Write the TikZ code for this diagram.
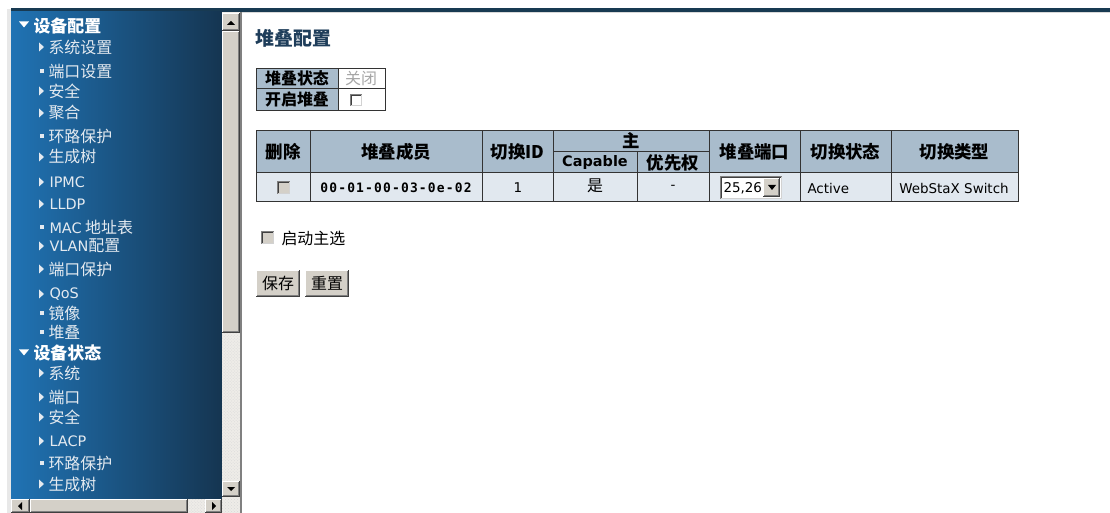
\documentclass[tikz,border=0pt]{standalone}
\usepackage{fontspec}
\setmainfont{Noto Sans CJK SC}
\newfontfamily\lat{DejaVu Sans}
\newfontfamily\latmono{DejaVu Sans Mono}[LetterSpace=9]
\usetikzlibrary{patterns}
\definecolor{bar}{HTML}{183A52}
\definecolor{navL}{HTML}{2073B4}
\definecolor{navR}{HTML}{153551}
\definecolor{navtxt}{HTML}{E4EAF0}
\definecolor{btn}{HTML}{D4D0C8}
\definecolor{btnsh}{HTML}{808080}
\definecolor{btndk}{HTML}{404040}
\definecolor{hdr}{HTML}{A9BCCC}
\definecolor{rowbg}{HTML}{E1E8EF}
\definecolor{ttl}{HTML}{1E3D5A}
\definecolor{track}{HTML}{EEECE8}
\definecolor{grid}{HTML}{333333}
\newcommand\winbevel[4]{%
  \fill[btn] (#1,#2) rectangle (#3,#4);
  \draw[white] (#1+0.5,#4-1) -- (#1+0.5,#2+0.5) -- (#3-1,#2+0.5);
  \draw[btndk] (#1,#4-0.5) -- (#3-0.5,#4-0.5) -- (#3-0.5,#2);
  \draw[btnsh] (#1+1,#4-1.5) -- (#3-1.5,#4-1.5) -- (#3-1.5,#2+1);
}
\newcommand\winsunk[5]{% x1 y1 x2 y2 fill
  \fill[#5] (#1,#2) rectangle (#3,#4);
  \draw[btnsh] (#1+0.5,#4) -- (#1+0.5,#2+0.5) -- (#3,#2+0.5);
  \draw[btndk] (#1+1.5,#4-1) -- (#1+1.5,#2+1.5) -- (#3-1,#2+1.5);
  \draw[gray!35] (#1+1,#4-0.5) -- (#3-0.5,#4-0.5) -- (#3-0.5,#2+1);
}
\tikzset{
  navitem/.style={anchor=west, inner sep=0, text=navtxt, font=\fontsize{16}{16}\selectfont},
  navlat/.style={navitem, font=\lat\fontsize{14.5}{14.5}\selectfont},
  navhead/.style={anchor=west, inner sep=0, text=white, font=\bfseries\fontsize{17}{17}\selectfont},
  hd/.style={inner sep=0, font=\bfseries\fontsize{17.5}{17.5}\selectfont},
  sm/.style={inner sep=0, font=\bfseries\fontsize{16}{16}\selectfont},
  cell/.style={inner sep=0, font=\lat\fontsize{13.5}{13.5}\selectfont},
  txt/.style={inner sep=0, font=\fontsize{16}{16}\selectfont},
}
\begin{document}
\begin{tikzpicture}[x=1bp,y=-1bp,line width=1bp]
\useasboundingbox (0,0) rectangle (1110,513);
\fill[white] (0,0) rectangle (1110,513);
% top bar and left strip
\fill[bar] (11,8.5) rectangle (1110,12);
\fill[gray!30] (11,12) rectangle (1110,13);
\fill[gray!18] (7,9) rectangle (11,513);
% navigation panel
\shade[left color=navL, right color=navR] (11,12) rectangle (222,499);
% scrollbar tracks
\fill[track] (222,12) rectangle (240,513);
\fill[track] (11,499) rectangle (222,513);
\fill[pattern=crosshatch dots, pattern color=gray!30] (222,333) rectangle (240,481);
\fill[pattern=crosshatch dots, pattern color=gray!30] (188,499) rectangle (205,513);
\fill[pattern=crosshatch dots, pattern color=gray!30] (222,497) rectangle (240,513);
% vertical scrollbar
\winbevel{222}{13}{240}{31}
\fill[black] (227,25) -- (235,25) -- (231,21) -- cycle;
\winbevel{222}{31}{240}{333}
\winbevel{222}{481}{240}{497}
\fill[black] (227,487) -- (235,487) -- (231,491) -- cycle;
% horizontal scrollbar
\winbevel{11}{499}{30}{513}
\fill[black] (22,502) -- (22,510) -- (18,506) -- cycle;
\winbevel{30}{499}{188}{513}
\winbevel{205}{499}{222}{513}
\fill[black] (212,502) -- (212,510) -- (216,506) -- cycle;
\fill[btnsh] (240,12) rectangle (241.5,513);
% menu markers
\foreach \y in {25,353} \fill[white] (19,\y-3.5) -- (29,\y-3.5) -- (24,\y+2.5) -- cycle;
\foreach \y in {47,91,113,157,182,204,246,269,294,373,397,417,441,484}
  \fill[navtxt] (39,\y-4.5) -- (39,\y+4.5) -- (44,\y) -- cycle;
\foreach \y in {71,136,227,313,332,463}
  \fill[navtxt] (40,\y-2) rectangle (44,\y+2);
% menu texts
\node[navhead] (h1) at (33,26) {设备配置};
\node[navitem] (m1) at (48,47) {系统设置};
\node[navitem] (m2) at (48,71) {端口设置};
\node[navitem] (m3) at (48,91) {安全};
\node[navitem] (m4) at (48,113) {聚合};
\node[navitem] (m5) at (48,136) {环路保护};
\node[navitem] (m6) at (48,157) {生成树};
\node[navlat] (m7) at (49,182) {IPMC};
\node[navlat] (m8) at (49,204) {LLDP};
\node[navitem] (m9) at (49,227) {{\lat\fontsize{14.5}{14.5}\selectfont MAC} 地址表};
\node[navitem] (m10) at (49,246) {{\lat\fontsize{14.5}{14.5}\selectfont VLAN}配置};
\node[navitem] (m11) at (48,269) {端口保护};
\node[navlat] (m12) at (49,294) {QoS};
\node[navitem] (m13) at (48,313) {镜像};
\node[navitem] (m14) at (48,332) {堆叠};
\node[navhead] (h2) at (33,353) {设备状态};
\node[navitem] (s1) at (48,373) {系统};
\node[navitem] (s2) at (48,397) {端口};
\node[navitem] (s3) at (48,417) {安全};
\node[navlat] (s4) at (49,441) {LACP};
\node[navitem] (s5) at (48,463) {环路保护};
\node[navitem] (s6) at (48,484) {生成树};
% title
\node[anchor=west, inner sep=0, text=ttl, font=\bfseries\fontsize{19}{19}\selectfont] (title) at (255,38) {堆叠配置};
% small table
\fill[hdr] (256,69) rectangle (338,111);
\draw[grid] (256,69) rectangle (385,111);
\draw[grid] (256,89) -- (385,89);
\draw[grid] (338,69) -- (338,111);
\node[sm] (st) at (297,78.5) {堆叠状态};
\node[txt, text=gray!70] (stv) at (361,78.5) {关闭};
\node[sm] (en) at (297,99.5) {开启堆叠};
\winsunk{350}{94}{362}{106}{white}
% main table
\fill[hdr] (256,131) rectangle (1018,173);
\fill[rowbg] (256,173) rectangle (1018,202);
\draw[grid] (256,131) rectangle (1018,202);
\draw[grid] (256,173) -- (1018,173);
\draw[grid] (553,152) -- (709,152);
\foreach \x in {310,482,553,709,800,891} \draw[grid] (\x,131) -- (\x,202);
\draw[grid] (637,152) -- (637,202);
\node[hd] (c1) at (283,152) {删除};
\node[hd] (c2) at (396,152) {堆叠成员};
\node[hd] (c3) at (517.5,152) {切换ID};
\node[hd] (c4) at (631,141) {主};
\node[hd, font=\lat\bfseries\fontsize{14.5}{14.5}\selectfont] (c4a) at (595,162.5) {Capable};
\node[hd] (c4b) at (673,162.5) {优先权};
\node[hd] (c5) at (754.5,152) {堆叠端口};
\node[hd] (c6) at (845.5,152) {切换状态};
\node[hd] (c7) at (954.5,152) {切换类型};
% data row
\winsunk{277}{181}{290}{194}{btn}
\node[inner sep=0, font=\latmono\bfseries\fontsize{13}{13}\selectfont] (d2) at (396,187.5) {00-01-00-03-0e-02};
\node[cell] (d3) at (518,187.5) {1};
\node[txt] (d4) at (595,186) {是};
\node[cell] (d4b) at (673,187.5) {-};
\winsunk{720}{176}{782}{199}{white}
\node[cell, anchor=west] (d5) at (723,188) {25,26};
\winbevel{763}{178}{780}{197}
\fill[black] (768,185) -- (776,185) -- (772,190) -- cycle;
\node[cell, anchor=west] (d6) at (807,188) {Active};
\node[cell] (d7) at (954,188) {WebStaX Switch};
% start master
\winsunk{261}{231}{274}{244}{btn}
\node[txt, anchor=west] (sm) at (281,238) {启动主选};
% buttons
\winbevel{256}{270}{300}{297}
\node[txt] (save) at (278,283) {保存};
\winbevel{305}{270}{349}{297}
\node[txt] (reset) at (327,283) {重置};
\end{tikzpicture}
\end{document}
